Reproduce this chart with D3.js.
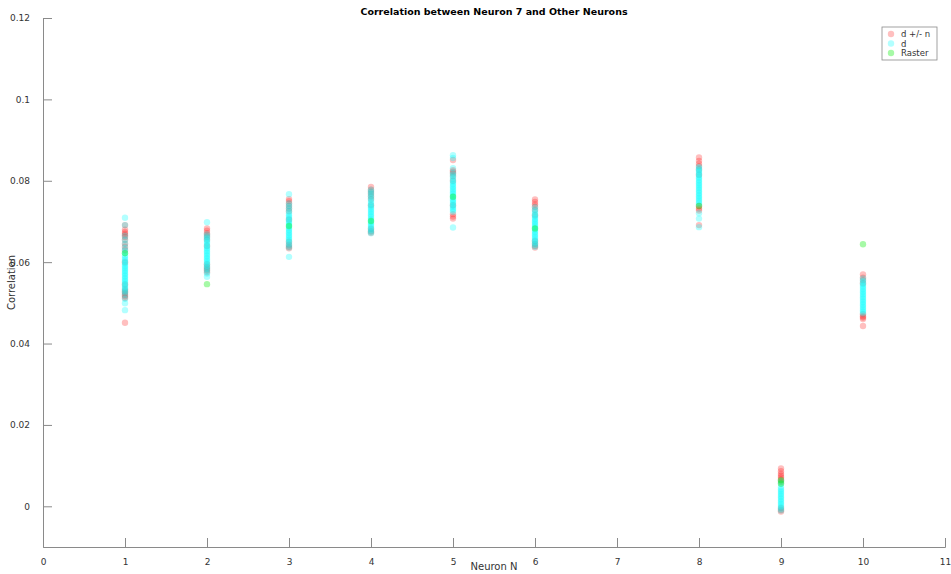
<!DOCTYPE html>
<html>
<head>
<meta charset="utf-8">
<script src="https://cdn.jsdelivr.net/npm/d3@7"></script>
<style>
  body { margin: 0; background: #fff; }
  svg { display: block; font-family: "DejaVu Sans", sans-serif; }
</style>
</head>
<body>
<svg id="chart" width="951" height="574"></svg>
<script>
// ---- Data ----
const neurons = [1, 2, 3, 4, 5, 6, 8, 9, 10];
const seriesNames = ["d +/- n", "d", "Raster"];
const xTicks = [0, 1, 2, 3, 4, 5, 6, 7, 8, 9, 10, 11];
const yTicks = [0, 0.02, 0.04, 0.06, 0.08, 0.1, 0.12];
const yTickLabels = ["0", "0.02", "0.04", "0.06", "0.08", "0.1", "0.12"];

const dpn = [
  [0.0451, 0.0512, 0.0516, 0.0520, 0.0524, 0.0528, 0.0533, 0.0545, 0.0600, 0.0630, 0.0638, 0.0645, 0.0655, 0.0662, 0.0666, 0.0670, 0.0674, 0.0680, 0.0691],
  [0.0575, 0.0580, 0.0584, 0.0588, 0.0595, 0.0640, 0.0655, 0.0662, 0.0667, 0.0671, 0.0677, 0.0683],
  [0.0634, 0.0638, 0.0643, 0.0650, 0.0705, 0.0725, 0.0732, 0.0738, 0.0744, 0.0750, 0.0755],
  [0.0672, 0.0676, 0.0682, 0.0740, 0.0755, 0.0762, 0.0768, 0.0773, 0.0778, 0.0785],
  [0.0707, 0.0712, 0.0718, 0.0740, 0.0800, 0.0812, 0.0818, 0.0822, 0.0826, 0.0851],
  [0.0636, 0.0640, 0.0645, 0.0652, 0.0715, 0.0728, 0.0736, 0.0742, 0.0748, 0.0754],
  [0.0691, 0.0727, 0.0732, 0.0738, 0.0815, 0.0828, 0.0836, 0.0842, 0.0849, 0.0857],
  [-0.0013, -0.0009, -0.0004, 0.0060, 0.0066, 0.0071, 0.0075, 0.0080, 0.0086, 0.0093],
  [0.0443, 0.0460, 0.0464, 0.0467, 0.0472, 0.0548, 0.0556, 0.0562, 0.0570]
];

const dOnly = [
  [0.0482, 0.0499, 0.0510, 0.0520, 0.0526, 0.0530, 0.0534, 0.0538, 0.0542, 0.0546, 0.0550, 0.0554, 0.0558, 0.0562, 0.0566, 0.0570, 0.0574, 0.0578, 0.0582, 0.0586, 0.0590, 0.0594, 0.0598, 0.0602, 0.0606, 0.0611, 0.0616, 0.0622, 0.0628, 0.0635, 0.0645, 0.0655, 0.0665, 0.0691, 0.0709],
  [0.0564, 0.0572, 0.0578, 0.0583, 0.0587, 0.0591, 0.0595, 0.0599, 0.0603, 0.0607, 0.0611, 0.0615, 0.0619, 0.0623, 0.0627, 0.0631, 0.0635, 0.0639, 0.0643, 0.0647, 0.0651, 0.0655, 0.0659, 0.0663, 0.0668, 0.0698],
  [0.0613, 0.0636, 0.0641, 0.0646, 0.0651, 0.0655, 0.0659, 0.0663, 0.0667, 0.0671, 0.0675, 0.0679, 0.0683, 0.0687, 0.0691, 0.0695, 0.0699, 0.0703, 0.0707, 0.0711, 0.0715, 0.0720, 0.0726, 0.0732, 0.0738, 0.0744, 0.0767],
  [0.0671, 0.0675, 0.0679, 0.0683, 0.0687, 0.0691, 0.0695, 0.0699, 0.0703, 0.0707, 0.0711, 0.0715, 0.0719, 0.0723, 0.0727, 0.0731, 0.0735, 0.0739, 0.0743, 0.0748, 0.0753, 0.0758, 0.0763, 0.0768, 0.0773, 0.0778],
  [0.0685, 0.0724, 0.0728, 0.0732, 0.0736, 0.0740, 0.0744, 0.0748, 0.0752, 0.0756, 0.0760, 0.0764, 0.0768, 0.0772, 0.0776, 0.0780, 0.0784, 0.0788, 0.0792, 0.0796, 0.0800, 0.0805, 0.0810, 0.0815, 0.0820, 0.0831, 0.0856, 0.0863],
  [0.0638, 0.0642, 0.0646, 0.0650, 0.0654, 0.0658, 0.0662, 0.0666, 0.0670, 0.0674, 0.0678, 0.0682, 0.0686, 0.0690, 0.0694, 0.0698, 0.0702, 0.0706, 0.0710, 0.0714, 0.0718, 0.0723, 0.0728, 0.0735],
  [0.0686, 0.0707, 0.0720, 0.0742, 0.0746, 0.0750, 0.0754, 0.0758, 0.0762, 0.0766, 0.0770, 0.0774, 0.0778, 0.0782, 0.0786, 0.0790, 0.0794, 0.0798, 0.0802, 0.0806, 0.0810, 0.0814, 0.0818, 0.0822, 0.0826, 0.0830, 0.0834],
  [-0.0010, -0.0006, -0.0002, 0.0002, 0.0006, 0.0010, 0.0014, 0.0018, 0.0022, 0.0026, 0.0030, 0.0034, 0.0038, 0.0042, 0.0047, 0.0055, 0.0062],
  [0.0474, 0.0478, 0.0482, 0.0486, 0.0490, 0.0494, 0.0498, 0.0502, 0.0506, 0.0510, 0.0514, 0.0518, 0.0522, 0.0526, 0.0530, 0.0534, 0.0538, 0.0542, 0.0546, 0.0550, 0.0554, 0.0560]
];

const raster = [
  [0.0622],
  [0.0546],
  [0.0689],
  [0.0701],
  [0.0761],
  [0.0683],
  [0.0738],
  [0.0056, 0.0064],
  [0.0644]
];

const colors = ["#ff0000", "#00ffff", "#00ee00"];
const opacities = [0.25, 0.3, 0.35];

// ---- Layout ----
const svg = d3.select("#chart");
const plotLeft = 43, plotRight = 945, plotTop = 18, plotBottom = 547;
const x = d3.scaleLinear().domain([0, 11]).range([plotLeft, plotRight]);
const y = d3.scaleLinear().domain([-0.01, 0.12]).range([plotBottom, plotTop]);
const axisColor = "#8a8a8a";
const textColor = "#333";

// Axes
const xAxis = d3.axisBottom(x).tickValues(xTicks).tickSize(-9).tickPadding(12).tickFormat(d3.format("d"));
const gx = svg.append("g").attr("transform", `translate(0,${plotBottom})`).call(xAxis);
const yAxis = d3.axisLeft(y).tickValues(yTicks).tickSize(-9).tickPadding(13)
  .tickFormat((d, i) => yTickLabels[i]);
const gy = svg.append("g").attr("transform", `translate(${plotLeft},0)`).call(yAxis);
[gx, gy].forEach(g => {
  g.select(".domain").attr("stroke", axisColor).attr("stroke-width", 1);
  g.selectAll(".tick line").attr("stroke", axisColor);
  g.selectAll(".tick text").attr("fill", textColor).attr("font-size", 9).attr("font-family", "DejaVu Sans");
});

// Points
const series = [dpn, dOnly, raster];
series.forEach((s, si) => {
  const pts = [];
  s.forEach((vals, ni) => vals.forEach(v => pts.push({ n: neurons[ni], v })));
  svg.append("g").selectAll("circle").data(pts).join("circle")
    .attr("cx", d => x(d.n))
    .attr("cy", d => y(d.v))
    .attr("r", 3.2)
    .attr("fill", colors[si])
    .attr("fill-opacity", opacities[si]);
});

// Title & labels
svg.append("text").attr("x", (plotLeft + plotRight) / 2).attr("y", 15)
  .attr("text-anchor", "middle").attr("font-size", 9.5).attr("font-weight", "bold")
  .attr("fill", "#000").text("Correlation between Neuron 7 and Other Neurons");
svg.append("text").attr("x", (plotLeft + plotRight) / 2).attr("y", 570)
  .attr("text-anchor", "middle").attr("font-size", 10).attr("fill", textColor).text("Neuron N");
svg.append("text").attr("transform", `translate(15,${(plotTop + plotBottom) / 2}) rotate(-90)`)
  .attr("text-anchor", "middle").attr("font-size", 10).attr("fill", textColor).text("Correlation");

// Legend
const lg = svg.append("g");
lg.append("rect").attr("x", 882).attr("y", 27).attr("width", 55).attr("height", 33)
  .attr("fill", "#fff").attr("stroke", axisColor).attr("stroke-width", 0.8);
seriesNames.forEach((name, i) => {
  const yy = 34 + i * 9.5;
  lg.append("circle").attr("cx", 891).attr("cy", yy).attr("r", 3.2)
    .attr("fill", colors[i]).attr("fill-opacity", opacities[i]);
  lg.append("text").attr("x", 901).attr("y", yy + 3).attr("font-size", 8.5)
    .attr("fill", textColor).text(name);
});
</script>
</body>
</html>
